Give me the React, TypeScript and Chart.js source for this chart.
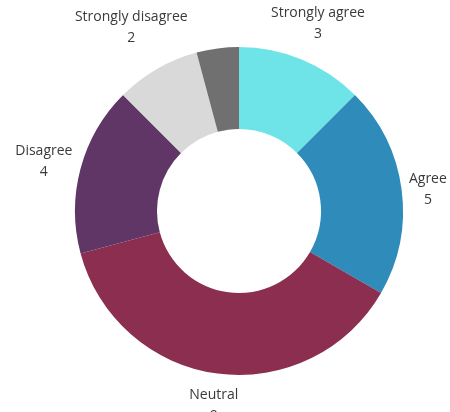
import React, { useEffect, useRef } from "react";
import { Chart, registerables } from "chart.js";

Chart.register(...registerables);

const categories = ["Strongly agree", "Agree", "Neutral", "Disagree", "Strongly disagree", ""];
const counts = [3, 5, 9, 4, 2, 1];
const colors = ["#6ee4e8", "#2e8bba", "#8b2e4f", "#5f3666", "#d9d9d9", "#707070"];

const FONT = "14px 'Open Sans', sans-serif";
const LINE_H = 21;
const OFFSET = 5;
const TEXT_SHIFT_Y = 3;

const outerLabels = {
  id: "outerLabels",
  afterDatasetsDraw(chart: any) {
    const ctx = chart.ctx;
    const meta = chart.getDatasetMeta(0);
    const labels = chart.data.labels as string[];
    const data = chart.data.datasets[0].data as number[];
    ctx.save();
    ctx.font = FONT;
    ctx.fillStyle = "#3a3a3a";
    ctx.textAlign = "center";
    ctx.textBaseline = "middle";
    meta.data.forEach((arc: any, i: number) => {
      const label = labels[i];
      if (!label) return;
      const p = arc.getProps(["x", "y", "startAngle", "endAngle", "outerRadius"], true);
      const mid = (p.startAngle + p.endAngle) / 2;
      const ux = Math.cos(mid);
      const uy = Math.sin(mid);
      const w = Math.max(ctx.measureText(label).width, ctx.measureText(String(data[i])).width);
      const h = LINE_H * 2;
      const proj = Math.abs(ux) * w / 2 + Math.abs(uy) * h / 2;
      const d = p.outerRadius + OFFSET + proj;
      const cx = p.x + ux * d;
      const cy = p.y + uy * d + TEXT_SHIFT_Y;
      ctx.fillText(label, cx, cy - LINE_H / 2);
      ctx.fillText(String(data[i]), cx, cy + LINE_H / 2);
    });
    ctx.restore();
  },
};

export default function App() {
  const ref = useRef<HTMLCanvasElement | null>(null);
  useEffect(() => {
    if (!ref.current) return;
    const chart = new Chart(ref.current, {
      type: "doughnut",
      data: {
        labels: categories,
        datasets: [
          {
            data: counts,
            backgroundColor: colors,
            borderWidth: 0,
          },
        ],
      },
      options: {
        responsive: false,
        animation: false,
        cutout: "50%",
        layout: { padding: { top: 47, bottom: 37, left: 75, right: 47 } },
        plugins: {
          legend: { display: false },
          tooltip: { enabled: false },
        },
      },
      plugins: [outerLabels],
    });
    return () => chart.destroy();
  }, []);
  return (
    <div style={{ position: "absolute", left: 0, top: 0, width: 450, height: 412, background: "#fff" }}>
      <canvas ref={ref} width={450} height={412} style={{ display: "block" }} />
    </div>
  );
}
